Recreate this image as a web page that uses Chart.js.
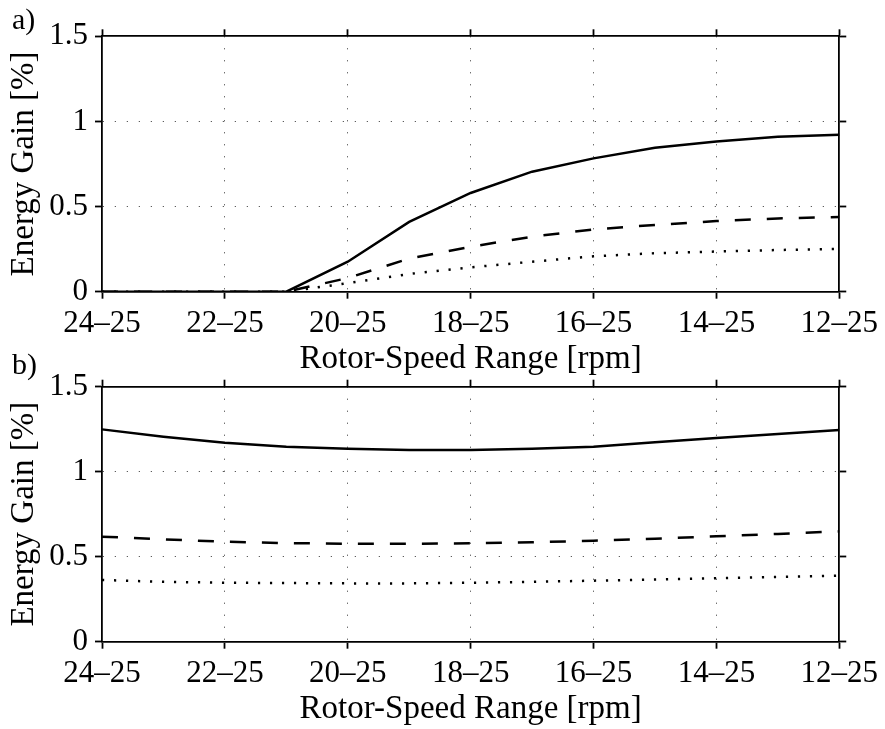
<!DOCTYPE html>
<html>
<head>
<meta charset="utf-8">
<script src="https://cdn.jsdelivr.net/npm/chart.js@4/dist/chart.umd.min.js"></script>
<style>
  body { margin: 0; background: #fff; }
  #wrap { position: relative; width: 885px; height: 729px; overflow: hidden; }
  canvas { position: absolute; left: 0; }
  .tag { position: absolute; left: 12px; font: 30px 'Liberation Serif', serif; line-height: 1; }
</style>
</head>
<body>
<div id="wrap">
  <canvas id="chartA" width="885" height="380" style="top:0"></canvas>
  <canvas id="chartB" width="885" height="379" style="top:350px"></canvas>
  <div class="tag" style="top:4px">a)</div>
  <div class="tag" style="top:349px">b)</div>
</div>
<script>
// rotor-speed ranges, widest range last
const ranges = ['24–25', '23–25', '22–25', '21–25', '20–25', '19–25', '18–25',
  '17–25', '16–25', '15–25', '14–25', '13–25', '12–25']
const yTicks = [0, 0.5, 1, 1.5]

// panel a)
const gainA_solid = [0, 0, 0, 0, 0.176, 0.41, 0.58, 0.705, 0.783, 0.845, 0.882, 0.91, 0.922]
const gainA_dashed = [0, 0, 0, 0, 0.08, 0.195, 0.264, 0.323, 0.366, 0.392, 0.415, 0.43, 0.439]
const gainA_dotted = [0, 0, 0, 0, 0.05, 0.104, 0.143, 0.176, 0.208, 0.226, 0.236, 0.245, 0.251]

// panel b)
const gainB_solid = [1.249, 1.206, 1.171, 1.147, 1.135, 1.128, 1.128, 1.135, 1.147, 1.173, 1.198, 1.222, 1.245]
const gainB_dashed = [0.618, 0.602, 0.588, 0.58, 0.576, 0.576, 0.579, 0.585, 0.594, 0.606, 0.62, 0.634, 0.649]
const gainB_dotted = [0.363, 0.352, 0.347, 0.345, 0.343, 0.343, 0.347, 0.352, 0.359, 0.366, 0.373, 0.381, 0.388]

const FONT = 'Liberation Serif'
const isMajor = (i) => i % 2 === 0

function makeChart(canvas, series, padTop, xAxisHeight, titlePadBottom) {
  const styles = [[], [16, 16], [2.2, 9.8]]
  return new Chart(canvas, {
    type: 'line',
    data: {
      labels: ranges,
      datasets: series.map((s, k) => ({
        data: s,
        borderColor: '#000',
        borderWidth: 2.5,
        borderDash: styles[k],
        borderCapStyle: 'butt',
        pointRadius: 0,
        tension: 0,
        fill: false,
      })),
    },
    options: {
      responsive: false,
      animation: false,
      devicePixelRatio: 1,
      layout: { padding: { top: padTop, left: 0, right: 38, bottom: 0 } },
      plugins: { legend: { display: false }, tooltip: { enabled: false } },
      scales: {
        x: {
          type: 'category',
          position: 'bottom',
          offset: false,
          grid: {
            color: (c) => (isMajor(c.index) && c.index > 0 && c.index < 12 ? 'rgba(0,0,0,0.8)' : 'transparent'),
            lineWidth: 1,
            tickColor: (c) => (isMajor(c.index) ? '#000' : 'transparent'),
            tickLength: 7,
            tickWidth: 1.8,
            tickBorderDash: [],
          },
          border: { display: true, color: '#000', width: 1.8, dash: [1, 11] },
          ticks: {
            autoSkip: false,
            maxRotation: 0,
            minRotation: 0,
            padding: 7,
            color: '#000',
            font: { family: FONT, size: 31 },
            callback: (v, i) => (isMajor(i) ? ranges[i] : ''),
          },
          title: {
            display: true,
            text: 'Rotor-Speed Range [rpm]',
            color: '#000',
            font: { family: FONT, size: 33 },
            padding: { top: 0, bottom: titlePadBottom },
          },
          afterFit: (s) => { s.height = xAxisHeight },
        },
        xTop: {
          type: 'category',
          position: 'top',
          labels: ranges,
          offset: false,
          grid: {
            drawOnChartArea: false,
            tickColor: (c) => (isMajor(c.index) ? '#000' : 'transparent'),
            tickLength: 7,
            tickWidth: 1.8,
            tickBorderDash: [],
          },
          border: { display: true, color: '#000', width: 1.8 },
          ticks: { display: false, autoSkip: false, maxRotation: 0 },
          afterFit: (s) => { s.height = 7 },
        },
        y: {
          position: 'left',
          min: 0,
          max: 1.5,
          afterBuildTicks: (s) => { s.ticks = yTicks.map((v) => ({ value: v })) },
          grid: {
            color: (c) => (c.tick && c.tick.value > 0 && c.tick.value < 1.5 ? 'rgba(0,0,0,0.8)' : 'transparent'),
            lineWidth: 1,
            tickColor: '#000',
            tickLength: 7,
            tickWidth: 1.8,
            tickBorderDash: [],
          },
          border: { display: true, color: '#000', width: 1.8, dash: [1, 11] },
          ticks: {
            padding: 7,
            color: '#000',
            font: { family: FONT, size: 31 },
            callback: (v) => String(v),
          },
          title: {
            display: true,
            text: 'Energy Gain [%]',
            color: '#000',
            font: { family: FONT, size: 33 },
            padding: { top: 5, bottom: 0 },
          },
          afterFit: (s) => { s.width = 102 },
        },
        yRight: {
          position: 'right',
          min: 0,
          max: 1.5,
          afterBuildTicks: (s) => { s.ticks = yTicks.map((v) => ({ value: v })) },
          grid: {
            drawOnChartArea: false,
            tickColor: '#000',
            tickLength: 7,
            tickWidth: 1.8,
            tickBorderDash: [],
          },
          border: { display: true, color: '#000', width: 1.8 },
          ticks: { display: false },
          afterFit: (s) => { s.width = 7 },
        },
      },
    },
  })
}

makeChart(document.getElementById('chartA'), [gainA_solid, gainA_dashed, gainA_dotted], 29.3, 88.3, 1)
makeChart(document.getElementById('chartB'), [gainB_solid, gainB_dashed, gainB_dotted], 29.7, 87.3, 0)
</script>
</body>
</html>
